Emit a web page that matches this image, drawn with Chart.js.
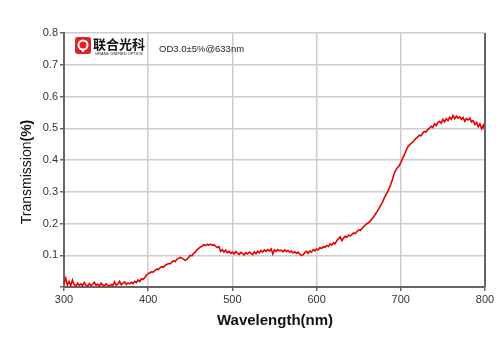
<!DOCTYPE html>
<html><head><meta charset="utf-8">
<script src="https://cdn.jsdelivr.net/npm/chart.js@4/dist/chart.umd.min.js"></script>
<style>html,body{margin:0;padding:0;background:#fff}#wrap{width:500px;height:353px;position:relative}</style>
</head><body><div id="wrap"><canvas id="c"></canvas></div>
<script>
const wavelengths = [
300,302,304,306,308,310,312,314,316,318,320,322,324,326,328,330,332,334,336,338,340,342,344,346,348,350,352,354,356,358,360,362,364,366,368,370,372,374,376,378,380,382,384,386,388,390,392,394,396,398,
400,402,404,406,408,410,412,414,416,418,420,422,424,426,428,430,432,434,436,438,440,442,444,446,448,450,452,454,456,458,460,462,464,466,468,470,472,474,476,478,480,482,484,486,488,490,492,494,496,498,
500,502,504,506,508,510,512,514,516,518,520,522,524,526,528,530,532,534,536,538,540,542,544,546,548,550,552,554,556,558,560,562,564,566,568,570,572,574,576,578,580,582,584,586,588,590,592,594,596,598,
600,602,604,606,608,610,612,614,616,618,620,622,624,626,628,630,632,634,636,638,640,642,644,646,648,650,652,654,656,658,660,662,664,666,668,670,672,674,676,678,680,682,684,686,688,690,692,694,696,698,
700,702,704,706,708,710,712,714,716,718,720,722,724,726,728,730,732,734,736,738,740,742,744,746,748,750,752,754,756,758,760,762,764,766,768,770,772,774,776,778,780,782,784,786,788,790,792,794,796,798,800];
const transmission = [
0.012,0.028,0.006,0.018,0.004,0.022,0.008,0.003,0.012,0.005,0.010,0.004,0.014,0.006,0.003,0.011,0.004,0.008,0.015,0.005,0.009,0.003,0.012,0.006,0.004,0.010,0.005,0.003,0.008,0.004,0.016,0.006,0.009,0.018,0.007,0.012,0.016,0.008,0.013,0.010,0.015,0.011,0.018,0.014,0.022,0.017,0.026,0.024,0.030,0.038,
0.042,0.045,0.048,0.047,0.052,0.056,0.055,0.060,0.064,0.062,0.068,0.071,0.074,0.073,0.078,0.082,0.080,0.087,0.090,0.093,0.091,0.088,0.084,0.087,0.093,0.100,0.098,0.106,0.110,0.117,0.122,0.126,0.128,0.133,0.131,0.134,0.132,0.135,0.131,0.133,0.129,0.124,0.127,0.112,0.118,0.110,0.116,0.108,0.113,0.106,
0.110,0.104,0.112,0.107,0.103,0.109,0.105,0.101,0.108,0.104,0.110,0.106,0.102,0.111,0.105,0.113,0.108,0.115,0.110,0.117,0.112,0.118,0.113,0.120,0.104,0.117,0.112,0.118,0.114,0.116,0.111,0.117,0.112,0.115,0.110,0.113,0.107,0.111,0.106,0.110,0.103,0.099,0.102,0.108,0.112,0.106,0.114,0.110,0.118,0.114,
0.120,0.117,0.124,0.121,0.127,0.125,0.131,0.128,0.136,0.132,0.140,0.136,0.146,0.152,0.158,0.146,0.154,0.160,0.157,0.163,0.161,0.166,0.170,0.168,0.175,0.180,0.178,0.185,0.190,0.196,0.200,0.203,0.209,0.215,0.222,0.230,0.238,0.247,0.257,0.266,0.278,0.289,0.298,0.310,0.323,0.338,0.356,0.368,0.376,0.382,
0.392,0.405,0.415,0.428,0.440,0.446,0.452,0.456,0.462,0.468,0.472,0.478,0.476,0.484,0.490,0.488,0.496,0.500,0.506,0.502,0.514,0.508,0.518,0.522,0.516,0.528,0.520,0.530,0.524,0.534,0.528,0.540,0.530,0.538,0.532,0.536,0.528,0.534,0.522,0.530,0.526,0.532,0.520,0.524,0.512,0.518,0.505,0.514,0.498,0.510,0.492];
const xTicks = [300,400,500,600,700,800];
const yTicks = [0.1,0.2,0.3,0.4,0.5,0.6,0.7,0.8];
const xTitle = 'Wavelength(nm)';
const yTitleMain = 'Transmission';
const yTitleUnit = '(%)';
const brandName = '联合光科';
const brandSub = 'GRAND UNIFIED OPTICS';
const note = 'OD3.0±5%@633nm';

const FONT = '"Liberation Sans", Arial, sans-serif';

const decor = {
  id: 'decor',
  afterDraw(chart) {
    const ctx = chart.ctx, a = chart.chartArea;
    ctx.save();
    // right border
    ctx.strokeStyle = '#666'; ctx.lineWidth = 2;
    ctx.beginPath(); ctx.moveTo(a.right, a.top); ctx.lineTo(a.right, a.bottom); ctx.stroke();
    // logo icon
    ctx.fillStyle = '#e02222';
    const ix = 75, iy = 37, iw = 16, ih = 17, r = 3;
    ctx.beginPath();
    ctx.moveTo(ix + r, iy); ctx.lineTo(ix + iw - r, iy); ctx.quadraticCurveTo(ix + iw, iy, ix + iw, iy + r);
    ctx.lineTo(ix + iw, iy + ih - r); ctx.quadraticCurveTo(ix + iw, iy + ih, ix + iw - r, iy + ih);
    ctx.lineTo(ix + r, iy + ih); ctx.quadraticCurveTo(ix, iy + ih, ix, iy + ih - r);
    ctx.lineTo(ix, iy + r); ctx.quadraticCurveTo(ix, iy, ix + r, iy); ctx.fill();
    ctx.strokeStyle = '#fff'; ctx.lineWidth = 2;
    ctx.beginPath(); ctx.arc(ix + 8, iy + 8, 4.5, 0, Math.PI * 2); ctx.stroke();
    ctx.beginPath(); ctx.moveTo(ix + 8, iy + 12.5); ctx.lineTo(ix + 8, iy + 15); ctx.stroke();
    // brand text
    ctx.fillStyle = '#111';
    ctx.font = 'bold 13px "Noto Sans CJK SC", sans-serif';
    ctx.textAlign = 'left'; ctx.textBaseline = 'middle';
    ctx.fillText(brandName, 93, 44);
    ctx.font = '4px ' + FONT;
    ctx.fillText(brandSub, 95, 54);
    // note
    ctx.font = '9.5px ' + FONT;
    ctx.fillStyle = '#222';
    ctx.fillText(note, 159, 49);
    // x title
    ctx.font = 'bold 15px ' + FONT;
    ctx.fillStyle = '#111';
    ctx.textAlign = 'center';
    ctx.fillText(xTitle, 275, 321);
    // y title
    ctx.translate(27, 172);
    ctx.rotate(-Math.PI / 2);
    ctx.font = '14px ' + FONT;
    const w1 = ctx.measureText(yTitleMain).width;
    ctx.font = 'bold 14px ' + FONT;
    const w2 = ctx.measureText(yTitleUnit).width;
    const start = -(w1 + w2) / 2;
    ctx.textAlign = 'left';
    ctx.font = '14px ' + FONT;
    ctx.fillText(yTitleMain, start, 0);
    ctx.font = 'bold 14px ' + FONT;
    ctx.fillText(yTitleUnit, start + w1, 0);
    ctx.restore();
  }
};

new Chart(document.getElementById('c'), {
  type: 'line',
  data: {
    labels: wavelengths,
    datasets: [{
      data: transmission,
      borderColor: '#e60000',
      borderWidth: 1.6,
      pointRadius: 0,
      tension: 0,
      fill: false
    }]
  },
  options: {
    responsive: true,
    maintainAspectRatio: false,
    animation: false,
    devicePixelRatio: 1,
    layout: { padding: { left: 0, top: 33, right: 15, bottom: 0 } },
    plugins: { legend: { display: false }, tooltip: { enabled: false } },
    scales: {
      x: {
        type: 'linear', min: 300, max: 800,
        afterBuildTicks(s) { s.ticks = xTicks.map(v => ({ value: v })); },
        afterFit(s) { s.height = 66; },
        grid: { color: '#cdcdcd', lineWidth: 1.5, tickLength: 4, tickColor: '#666' },
        border: { color: '#666', width: 2 },
        ticks: { color: '#333', font: { family: FONT, size: 11 }, padding: 2, maxRotation: 0 }
      },
      y: {
        min: 0, max: 0.8,
        afterBuildTicks(s) { s.ticks = [{ value: 0 }].concat(yTicks.map(v => ({ value: v }))); },
        afterFit(s) { s.width = 64; },
        grid: { color: '#cdcdcd', lineWidth: 1.5, tickLength: 4, tickColor: '#666' },
        border: { color: '#666', width: 2 },
        ticks: {
          color: '#333', font: { family: FONT, size: 11 }, padding: 2,
          callback(v) { return v === 0 ? '' : v.toFixed(1); }
        }
      }
    }
  },
  plugins: [decor]
});
</script></body></html>
